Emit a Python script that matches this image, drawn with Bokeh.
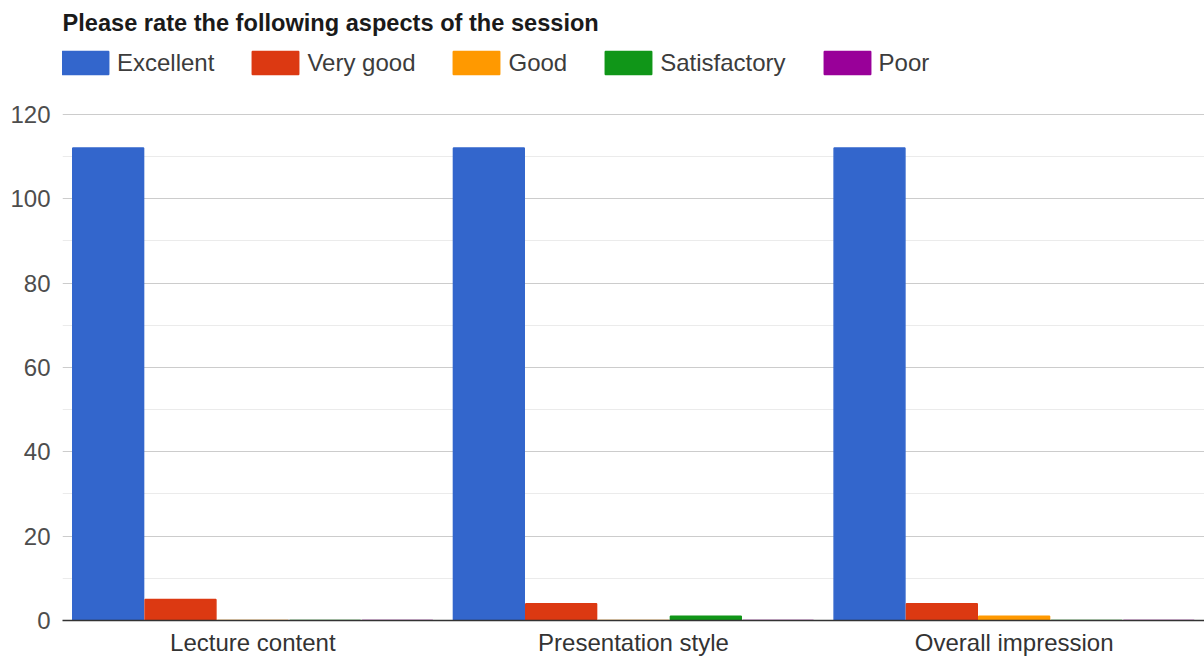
from bokeh.plotting import figure
from bokeh.models import ColumnDataSource, FactorRange, Range1d, FixedTicker, Label
from bokeh.transform import dodge
from bokeh.embed import file_html
from bokeh.resources import INLINE

categories = ["Lecture content", "Presentation style", "Overall impression"]
ratings = ["Excellent", "Very good", "Good", "Satisfactory", "Poor"]
excellent = [112, 112, 112]
very_good = [5, 4, 4]
good = [0, 0, 1]
satisfactory = [0, 1, 0]
poor = [0, 0, 0]
colors = ["#3366cc", "#dc3912", "#ff9900", "#109618", "#990099"]
y_ticks = [0, 20, 40, 60, 80, 100, 120]
y_minor = [10, 30, 50, 70, 90, 110]
title_text = "Please rate the following aspects of the session"

source = ColumnDataSource(dict(cat=categories, Excellent=excellent, **{"Very good": very_good},
                               Good=good, Satisfactory=satisfactory, Poor=poor))

FONT = "Liberation Sans"

# the frame extends up to the figure top so that title and legend sit in it
p = figure(x_range=FactorRange(*categories), y_range=Range1d(0, 147.0),
           width=1204, height=658, output_backend="svg", toolbar_location=None,
           min_border_left=62, min_border_right=0, min_border_bottom=0, min_border_top=0)
p.x_range.range_padding = 0

offsets = [-0.38, -0.19, 0.0, 0.19, 0.38]
for r, c, off in zip(ratings, colors, offsets):
    p.vbar(x=dodge("cat", off, range=p.x_range), top=r, bottom=0, width=0.186, source=source,
           fill_color=c, line_color=c, line_width=1.5, legend_label=r)

ticker = FixedTicker(ticks=y_ticks, minor_ticks=y_minor)
p.yaxis.ticker = ticker
p.ygrid.ticker = ticker
p.ygrid.grid_line_color = "#cccccc"
p.ygrid.minor_grid_line_color = "#ebebeb"
p.xgrid.grid_line_color = None
p.outline_line_color = None

p.yaxis.axis_line_color = None
p.yaxis.major_tick_line_color = None
p.yaxis.minor_tick_line_color = None
p.yaxis.major_tick_out = 0
p.yaxis.major_tick_in = 0
p.yaxis.minor_tick_out = 0
p.yaxis.major_label_text_font = FONT
p.yaxis.major_label_text_font_size = "24px"
p.yaxis.major_label_text_color = "#4d4d4d"
p.yaxis.major_label_standoff = 12

p.xaxis.axis_line_color = "#333333"
p.xaxis.axis_line_width = 1.5
p.xaxis.major_tick_line_color = None
p.xaxis.minor_tick_line_color = None
p.xaxis.major_tick_out = 0
p.xaxis.major_tick_in = 0
p.xaxis.minor_tick_out = 0
p.xaxis.major_label_text_font = FONT
p.xaxis.major_label_text_font_size = "24px"
p.xaxis.major_label_text_color = "#333333"
p.xaxis.major_label_standoff = 8

title = Label(x=0, y=598, x_units="screen", y_units="screen", text=title_text,
              text_font=FONT, text_font_size="23.6px", text_font_style="bold",
              text_color="#1a1a1a", text_baseline="middle", text_align="left")
p.add_layout(title)

leg = p.legend[0]
leg.orientation = "horizontal"
leg.location = (-6, 543)
leg.glyph_width = 58
leg.glyph_height = 29
leg.label_text_font = FONT
leg.label_text_font_size = "24px"
leg.label_text_color = "#3c3c3c"
leg.label_standoff = 3
leg.spacing = 32
leg.padding = 0
leg.margin = 0
leg.border_line_color = None
leg.background_fill_alpha = 0

open("out.html", "w").write(file_html(p, INLINE))
